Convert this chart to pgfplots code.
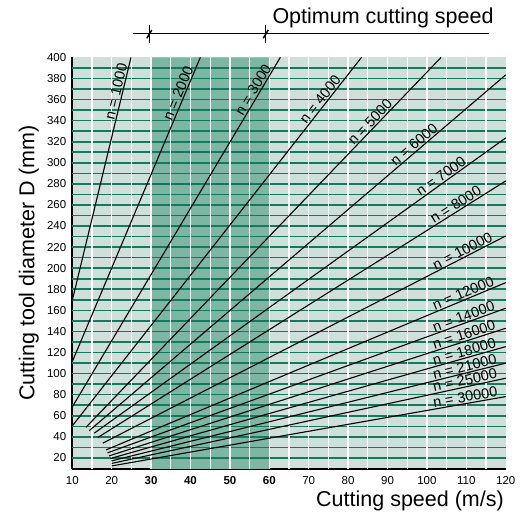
\documentclass[border=0pt]{standalone}
\usepackage{fontspec}
\setmainfont{Liberation Sans}
\usepackage{pgfplots}
\pgfplotsset{compat=1.18}
\definecolor{bglight}{HTML}{CFE0DA}
\definecolor{bandgreen}{HTML}{7DB6A3}
\definecolor{linegreen}{HTML}{127B5E}
\newcommand{\labfont}{\fontsize{14.5}{15}\selectfont}
\newcommand{\bigfont}{\fontsize{21.5}{22}\selectfont}
\tikzset{lab/.style={sloped, above, inner sep=1pt, font=\labfont, text=black}}
\pgfplotsset{nline/.style={black, solid, no markers, line width=1.1pt}}
\begin{document}
\begin{tikzpicture}[x=1pt,y=1pt]
\path[use as bounding box] (-72.3,-44) rectangle (454.7,469);
\begin{axis}[
  at={(0,0)}, anchor=south west,
  scale only axis, width=433.4pt, height=411.6pt,
  xmin=10, xmax=120, ymin=9.5, ymax=400,
  clip=false,
  axis x line*=bottom, axis y line*=left,
  axis line style={line width=2.4pt, black},
  major tick length=0pt,
  xtick={10,20,...,120},
  xticklabels={10,20,\textbf{30},\textbf{40},\textbf{50},\textbf{60},70,80,90,100,110,120},
  ytick={20,40,...,400},
  yticklabels={20,40,60,80,100,120,140,160,180,200,220,240,260,280,300,320,340,360,380,400},
  tick label style={font=\fontsize{11.5}{12}\selectfont},
  xticklabel style={yshift=-4pt},
  yticklabel style={xshift=-2.5pt},
  axis background/.style={fill=bglight},
]
% optimum band
\addplot[draw=none, fill=bandgreen, no markers, forget plot] coordinates {(30,9.5) (30,400) (60,400) (60,9.5) (30,9.5)};
% grid
\pgfplotsinvokeforeach{20,30,...,390}{\draw[linegreen, line width=1.6pt] (axis cs:10,#1) -- (axis cs:120,#1);}
\pgfplotsinvokeforeach{15,20,...,115}{\draw[white, line width=1.3pt] (axis cs:#1,9.5) -- (axis cs:#1,400);}
% spindle speed lines
\addplot[nline] coordinates {(10,169.5) (24.9,400)} node[lab, pos=0.853] {n = 1000};
\addplot[nline] coordinates {(10,111.4) (42.5,400)} node[lab, pos=0.874] {n = 2000};
\addplot[nline] coordinates {(10,68.4) (62.8,400)} node[lab, pos=0.897] {n = 3000};
\addplot[nline] coordinates {(10,50.4) (83.4,400)} node[lab, pos=0.875] {n = 4000};
\addplot[nline] coordinates {(13.48,49.1) (103.6,400)} node[lab, pos=0.813] {n = 5000};
\addplot[nline] coordinates {(14.31,45.9) (120,383.4)} node[lab, pos=0.79] {n = 6000};
\addplot[nline] coordinates {(15.58,43.5) (120,323.6)} node[lab, pos=0.852] {n = 7000};
\addplot[nline] coordinates {(16.45,39.3) (120,282.8)} node[lab, pos=0.886] {n = 8000};
\addplot[nline] coordinates {(17.73,34.0) (120,230.6)} node[lab, pos=0.90] {n = 10000};
\addplot[nline] coordinates {(18.55,27.6) (120,186.3)} node[lab, pos=0.90] {n = 12000};
\addplot[nline] coordinates {(18.93,24.8) (120,162.0)} node[lab, pos=0.90] {n = 14000};
\addplot[nline] coordinates {(19.31,21.9) (120,143.0)} node[lab, pos=0.90] {n = 16000};
\addplot[nline] coordinates {(19.70,19.5) (120,125.6)} node[lab, pos=0.90] {n = 18000};
\addplot[nline] coordinates {(19.95,17.2) (120,109.9)} node[lab, pos=0.90] {n = 21000};
\addplot[nline] coordinates {(20.0,14.8) (120,95.6)} node[lab, pos=0.90] {n = 25000};
\addplot[nline] coordinates {(20.0,12.4) (120,78.2)} node[lab, pos=0.90] {n = 30000};
\end{axis}
% axis titles
\node[rotate=90, anchor=base, font=\bigfont, inner sep=0] at (-38,206) {Cutting tool diameter D (mm)};
\node[anchor=base east, font=\bigfont, inner sep=0] at (431.7,-38) {Cutting speed (m/s)};
% optimum cutting speed annotation
\node[anchor=base west, font=\bigfont, inner sep=0] at (200,445.5) {Optimum cutting speed};
\draw[line width=1pt] (60.7,435) -- (417,435);
\foreach \xx in {77,193.4}{
  \draw[line width=1pt] (\xx,426) -- (\xx,444);
  \draw[line width=1.5pt] (\xx-2.5,430.7) -- (\xx+2.5,439);
}
\end{tikzpicture}
\end{document}
